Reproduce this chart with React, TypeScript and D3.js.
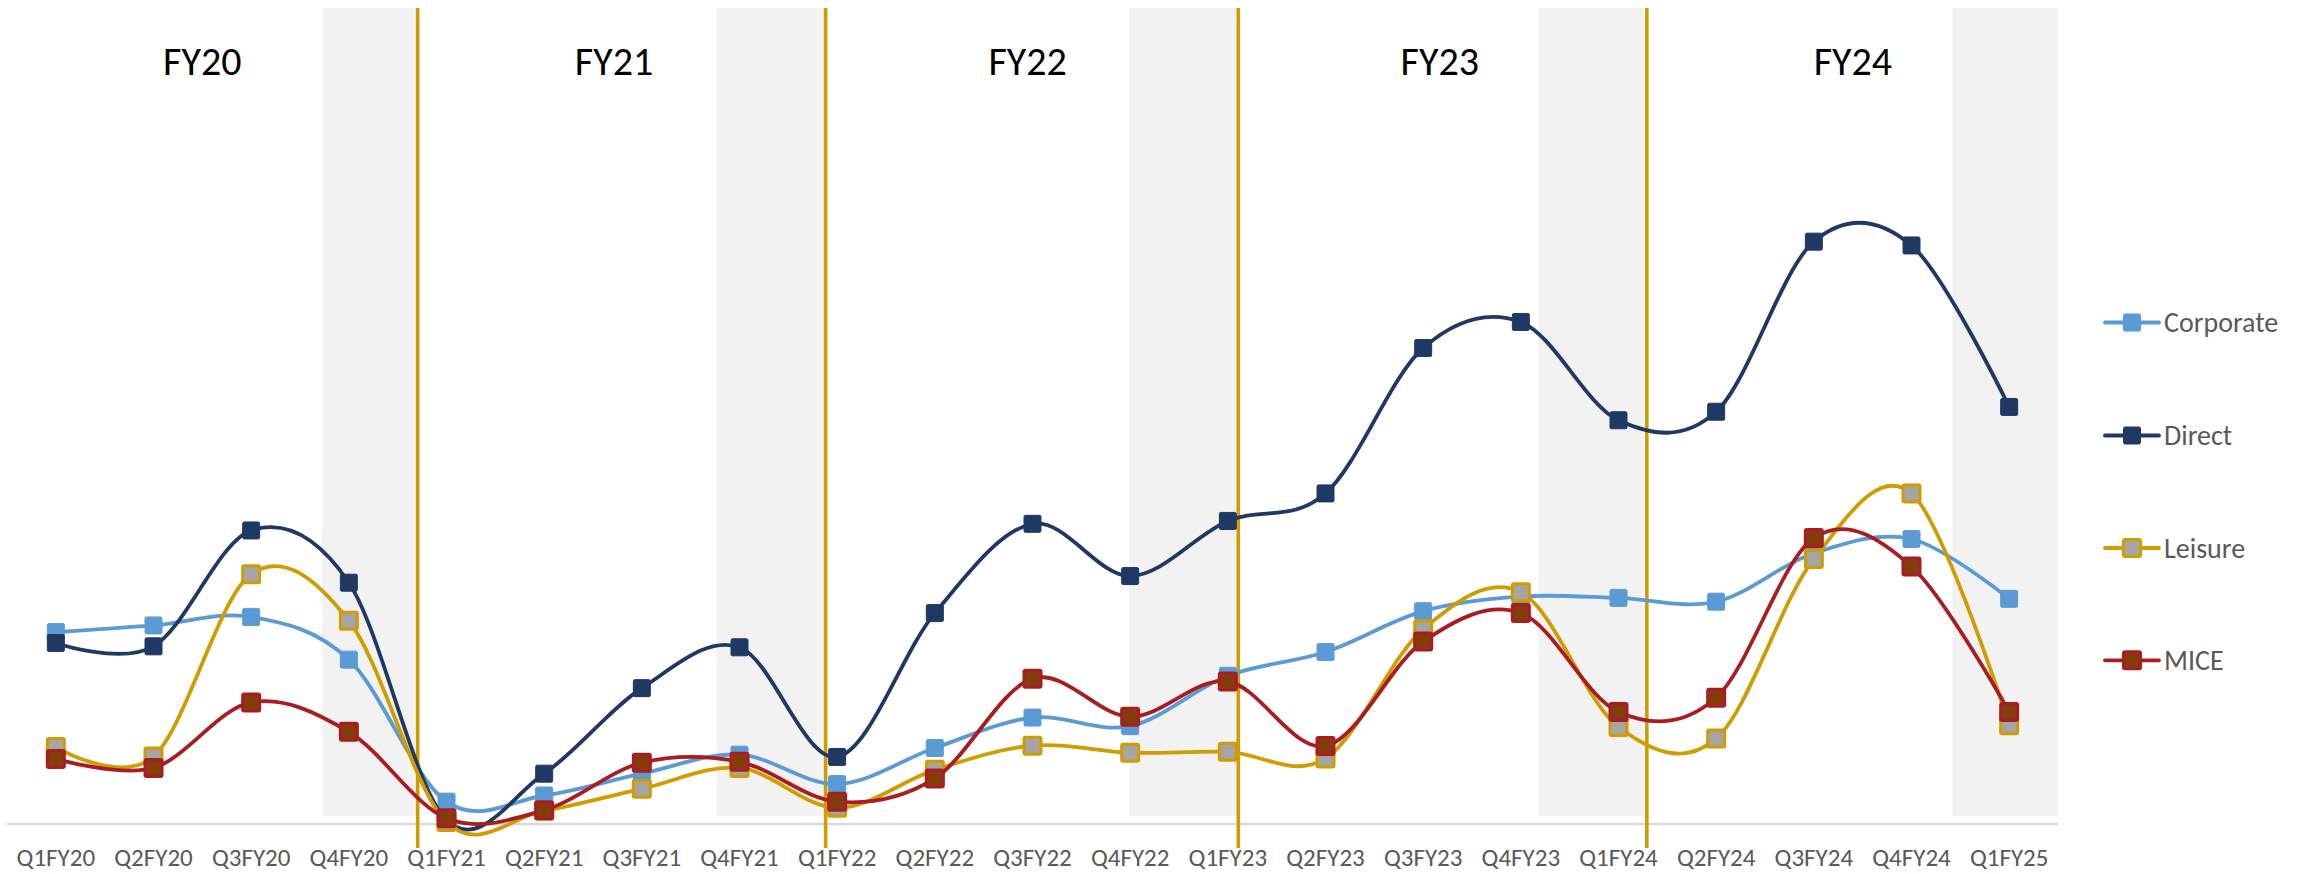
import React from "react";
import * as d3 from "d3";

const categories = [
  "Q1FY20", "Q2FY20", "Q3FY20", "Q4FY20",
  "Q1FY21", "Q2FY21", "Q3FY21", "Q4FY21",
  "Q1FY22", "Q2FY22", "Q3FY22", "Q4FY22",
  "Q1FY23", "Q2FY23", "Q3FY23", "Q4FY23",
  "Q1FY24", "Q2FY24", "Q3FY24", "Q4FY24",
  "Q1FY25",
];

const corporate = [20.2, 20.9, 21.8, 17.3, 2.35, 3.0, 5.3, 7.3, 4.2, 8.0, 11.2, 10.3, 15.6, 18.1, 22.4, 23.95, 23.8, 23.4, 28.5, 30.0, 23.7];
const direct = [19.05, 18.7, 30.9, 25.4, 0.4, 5.3, 14.3, 18.6, 7.06, 22.2, 31.6, 26.1, 31.9, 34.8, 50.1, 52.85, 42.5, 43.4, 61.3, 60.9, 43.9];
const leisure = [8.1, 7.1, 26.3, 21.4, 0.2, 1.4, 3.7, 5.9, 1.7, 5.7, 8.25, 7.5, 7.6, 6.9, 20.5, 24.4, 10.2, 9.0, 27.9, 34.8, 10.4];
const mice = [6.85, 5.9, 12.8, 9.7, 0.6, 1.45, 6.45, 6.55, 2.35, 4.8, 15.3, 11.3, 15.0, 8.2, 19.2, 22.2, 11.8, 13.3, 30.1, 27.1, 11.8];

const seriesNames = ["Corporate", "Direct", "Leisure", "MICE"];

// Fiscal-year decorations in category-index units
const fyLabels = ["FY20", "FY21", "FY22", "FY23", "FY24"];
const fyLabelPos = [2.0, 6.215, 10.45, 14.67, 18.9];
const shadeStarts = [3.225, 7.266, 11.49, 15.68, 19.92];
const shadeEnds = [4.205, 8.382, 12.607, 16.75, 21.0];
const dividerPos = [4.205, 8.382, 12.607, 16.79];

const GOLD = "#D09D00";
const styles = [
  { line: "#5B9BD5", fill: "#5B9BD5", stroke: "#5B9BD5" },
  { line: "#203864", fill: "#203864", stroke: "#203864" },
  { line: GOLD, fill: "#A5A5A5", stroke: GOLD },
  { line: "#A91D22", fill: "#843C0C", stroke: "#A91D22" },
];

const FONT = "Calibri, Carlito, Lato, sans-serif";

export default function App() {
  const W = 2315;
  const H = 874;
  const left = 7;
  const right = 2058;
  const baseY = 824;

  const x = d3.scaleBand<string>().domain(categories).range([left, right]).padding(0);
  const xc = (c: string) => (x(c) as number) + x.bandwidth() / 2;
  const xi = d3.scaleLinear().domain([0, categories.length]).range([left, right]);
  const y = d3.scaleLinear().domain([0, 80]).range([baseY, 64]);

  const allSeries = [corporate, direct, leisure, mice];
  const lineGen = d3
    .line<number>()
    .x((_, i) => xc(categories[i]))
    .y((d) => y(d))
    .curve(d3.curveCardinal.tension(0));

  const M = 17;
  const legendYs = [322.5, 435.5, 548, 660.3];

  return (
    <svg
      width={W}
      height={H}
      style={{ position: "fixed", left: 0, top: 0, display: "block", background: "#fff" }}
    >
      <rect x={0} y={0} width={W} height={H} fill="#fff" />
      {shadeStarts.map((s, i) => (
        <rect
          key={"sh" + i}
          x={xi(s)}
          y={8}
          width={xi(shadeEnds[i]) - xi(s)}
          height={816 - 8}
          fill="#F2F2F2"
        />
      ))}
      <line x1={left} x2={right} y1={baseY} y2={baseY} stroke="#D9D9D9" strokeWidth={2.5} />
      {dividerPos.map((p, i) => (
        <line key={"dv" + i} x1={xi(p)} x2={xi(p)} y1={8} y2={848} stroke={GOLD} strokeWidth={3.6} />
      ))}
      {fyLabels.map((t, i) => (
        <text
          key={"fy" + i}
          x={xi(fyLabelPos[i])}
          y={75}
          textAnchor="middle"
          fontFamily={FONT}
          fontSize={40}
          fill="#000"
        >
          {t}
        </text>
      ))}
      {categories.map((c) => (
        <text
          key={"lab" + c}
          x={xc(c)}
          y={866}
          textAnchor="middle"
          fontFamily={FONT}
          fontSize={25}
          fill="#595959"
        >
          {c}
        </text>
      ))}
      {allSeries.map((vals, si) => (
        <g key={"s" + si}>
          <path
            d={lineGen(vals) || ""}
            fill="none"
            stroke={styles[si].line}
            strokeWidth={3.8}
            strokeLinejoin="round"
          />
          {vals.map((v, i) => (
            <rect
              key={i}
              x={xc(categories[i]) - M / 2}
              y={y(v) - M / 2}
              width={M}
              height={M}
              rx={1.5}
              fill={styles[si].fill}
              stroke={styles[si].stroke}
              strokeWidth={si >= 2 ? 3 : 1}
            />
          ))}
        </g>
      ))}
      {seriesNames.map((n, i) => (
        <g key={"lg" + i}>
          <line
            x1={2105}
            x2={2159}
            y1={legendYs[i]}
            y2={legendYs[i]}
            stroke={styles[i].line}
            strokeWidth={3.8}
            strokeLinecap="round"
          />
          <rect
            x={2132 - M / 2}
            y={legendYs[i] - M / 2}
            width={M}
            height={M}
            rx={1.5}
            fill={styles[i].fill}
            stroke={styles[i].stroke}
            strokeWidth={i >= 2 ? 3 : 1}
          />
          <text
            x={2164}
            y={legendYs[i]}
            dy="0.35em"
            fontFamily={FONT}
            fontSize={28}
            fill="#595959"
          >
            {n}
          </text>
        </g>
      ))}
    </svg>
  );
}
